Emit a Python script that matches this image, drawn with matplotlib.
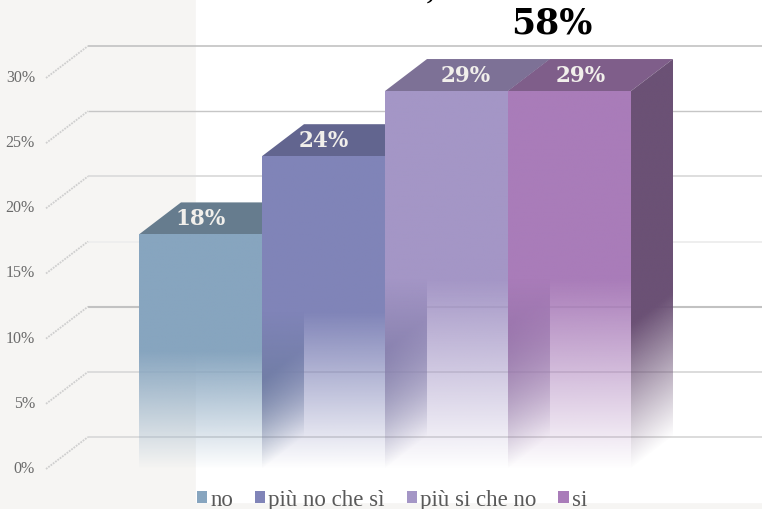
import matplotlib
matplotlib.use("Agg")
import matplotlib.pyplot as plt
import numpy as np
from matplotlib.patches import Patch, Polygon, Rectangle

categories = ["no", "più no che sì", "più si che no", "si"]
values = [18, 24, 29, 29]
ticks = [0, 5, 10, 15, 20, 25, 30]
tick_labels = ["0%", "5%", "10%", "15%", "20%", "25%", "30%"]
headline = "58%"

front_colors = ["#87a5bf", "#8084b8", "#a496c6", "#a97cb9"]
top_colors = ["#667c8e", "#62658f", "#7d7196", "#7f5e8a"]
side_colors = ["#5f7690", "#5f638c", "#76688f", "#6b5175"]
label_shift = [0.0, 0.0, 0.16, 0.09]  # the labels are not quite centred
grid_colors = ["#dcdcdc", "#dcdcdc", "#c2c2c2", "#eeeeee", "#dedede", "#c6c6c6", "#c2c2c2"]
grid_widths = [1.4, 1.4, 1.5, 1.4, 1.4, 1.0, 1.2]

W, H = 762, 510
px_x = 123  # pixels for one bar
px_y = 391 / 30  # pixels for one percent
x0, y0 = 139, 470  # origin in pixels
dx = 42 / px_x  # 3d depth
dy = 32 / px_y
serif = "Liberation Serif"
serif_bold = "DejaVu Serif"


def rgba(color, alpha):
    out = np.ones(alpha.shape + (4,))
    out[..., :3] = matplotlib.colors.to_rgb(color)
    out[..., 3] = alpha
    return out


fig = plt.figure(figsize=(W / 100, H / 100), dpi=100, facecolor="#f6f5f3")
fig.add_artist(Rectangle((196 / W, 7 / H), 1, 1, transform=fig.transFigure, color="white", zorder=-5))
ax = fig.add_axes([0, 0, 1, 1], facecolor="none")
ax.axis("off")

# back wall lines and the slanted ones on the left wall
for t, lab, c, lw in zip(ticks, tick_labels, grid_colors, grid_widths):
    ax.plot([-51 / px_x, 623 / px_x], [t + dy, t + dy], color=c, lw=lw, zorder=1, solid_capstyle="butt")
    ax.plot([-93 / px_x, -51 / px_x], [t, t + dy], color="#cfcfcf", lw=1.3, ls=(0, (1, 0.6)), zorder=1)
    ax.text(-104 / px_x, t + 0.08, lab, ha="right", va="center", family=serif, fontsize=11.5, color="#6a6a6a")

# bars from left to right, each one paints over the side of the one before
for i, (v, fc, tc, sc) in enumerate(zip(values, front_colors, top_colors, side_colors)):
    z = 2 + i
    ax.add_patch(Polygon([(i, v), (i + dx, v + dy), (i + 1 + dx, v + dy), (i + 1, v)], color=tc, lw=0, zorder=z))

    # side face, fades with the height above the floor
    xs = np.linspace(0, dx, 60)
    ys = np.linspace(0, v + dy, 600)
    xx, yy = np.meshgrid(xs, ys)
    side_alpha = np.clip((yy - xx / dx * dy) / (0.38 * v), 0, 1)
    im = ax.imshow(rgba(sc, side_alpha), origin="lower", extent=(i + 1, i + 1 + dx, 0, v + dy),
                   aspect="auto", zorder=z, interpolation="bilinear")
    clip = Polygon([(i + 1, 0), (i + 1 + dx, dy), (i + 1 + dx, v + dy), (i + 1, v)], transform=ax.transData)
    im.set_clip_path(clip)

    # front face
    ys = np.linspace(0, v, 600)
    front_alpha = np.clip(ys / (v / 2), 0, 1).reshape(-1, 1)
    ax.imshow(rgba(fc, front_alpha), origin="lower", extent=(i, i + 1, 0, v),
              aspect="auto", zorder=z + 0.1, interpolation="bilinear")

    ax.text(i + 0.5 + label_shift[i], v + dy / 2, f"{v}%", ha="center", va="center", family=serif_bold,
            fontweight="bold", fontsize=15.5, color="#f1efeb", zorder=10)

ax.set_xlim(-x0 / px_x, (W - x0) / px_x)
ax.set_ylim((y0 - H) / px_y, y0 / px_y)

ax.text((552 - x0) / px_x, (y0 - 24) / px_y, headline, ha="center", va="center", family=serif_bold,
        fontweight="bold", fontsize=25, color="black", zorder=11)
ax.text((430 - x0) / px_x, (y0 + 1) / px_y, ",", ha="center", va="baseline", family=serif,
        fontweight="bold", fontsize=20, color="black", zorder=11)

handles = [Patch(color=c, lw=0, label=n) for c, n in zip(front_colors, categories)]
ax.legend(handles=handles, ncol=4, frameon=False, loc="center", bbox_to_anchor=(392 / W, 9 / H),
          prop={"family": serif, "size": 16.5}, labelcolor="#595959", handlelength=0.44, handleheight=0.44,
          handletextpad=0.15, columnspacing=0.95, borderpad=0, borderaxespad=0)

fig.savefig("out.png", dpi=100, facecolor=fig.get_facecolor())
